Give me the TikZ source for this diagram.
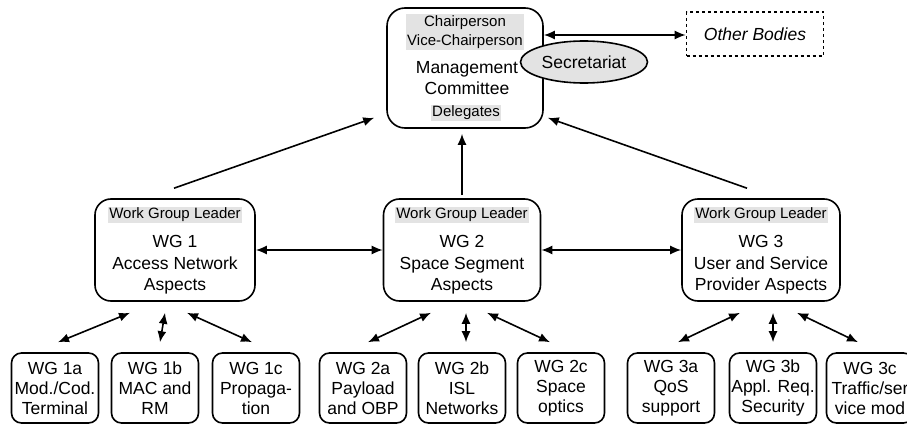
\documentclass[tikz,border=0pt]{standalone}
\usepackage{fontspec}
\setmainfont{Liberation Sans}
\usetikzlibrary{positioning}
\usetikzlibrary{shapes.geometric}
\usetikzlibrary{arrows.meta}

\tikzset{
	bigbox/.style={draw, line width=1.6pt, rounded corners=16pt, minimum width=160pt, minimum height=102pt},
	subbox/.style={draw, line width=1.6pt, rounded corners=10pt, minimum width=87pt, minimum height=70pt, align=center, inner sep=0pt, font=\fontsize{17.5}{20}\selectfont},
	tag/.style={fill=gray!22, inner sep=1.5pt, align=center, font=\fontsize{15}{19}\selectfont},
	txt/.style={align=center, font=\fontsize{17.5}{21.5}\selectfont},
	dbl/.style={line width=1.6pt, {Latex[length=11pt,width=9pt]}-{Latex[length=11pt,width=9pt]}},
	up/.style={line width=1.6pt, -{Latex[length=11pt,width=9pt]}}
}

\begin{document}
\begin{tikzpicture}[x=1pt, y=-1pt]
				\useasboundingbox (0,0) rectangle (907,425);
				
				% management committee
				\node[bigbox, rounded corners=18pt, minimum width=156pt, minimum height=120pt] (MC) at (465,68) {};
				\node[tag] (Chair) at (465,32) {Chairperson\\Vice-Chairperson};
				\node[txt] (MCtxt) at (467,78) {Management\\Committee};
				\node[tag] (Deleg) at (466,113) {Delegates};
				\node[ellipse, draw, line width=1.6pt, fill=gray!22, minimum width=127pt, minimum height=42pt, inner sep=0pt, font=\fontsize{17.5}{20}\selectfont] (Sec) at (584,62) {Secretariat};
				
				\node[draw, dashed, line width=1.6pt, minimum width=137pt, minimum height=44pt, font=\fontsize{17.5}{20}\selectfont\itshape] (OB) at (755,34) {Other Bodies};
				\draw[dbl] ([yshift=-1pt]OB.west -| MC.east) -- ([yshift=-1pt]OB.west);
				
				% work groups
				\node[bigbox] (WG1) at (175,250) {};
				\node[tag] (L1) at (175,215) {Work Group Leader};
				\node[txt] (T1) at (175,265) {WG 1\\Access Network\\Aspects};
				
				\node[bigbox, minimum width=157pt] (WG2) at (462,250) {};
				\node[tag] (L2) at (462,215) {Work Group Leader};
				\node[txt] (T2) at (462,265) {WG 2\\Space Segment\\Aspects};
				
				\node[bigbox, minimum width=158pt] (WG3) at (761,250) {};
				\node[tag] (L3) at (761,215) {Work Group Leader};
				\node[txt] (T3) at (761,265) {WG 3\\User and Service\\Provider Aspects};
				
				\draw[up] ([xshift=-1pt,yshift=10pt]WG1.north) -- ([xshift=-12pt,yshift=11pt]MC.south west);
				\draw[up] ([yshift=3pt]WG2.north) -- ([yshift=-5pt]WG2.north |- MC.south);
				\draw[up] ([xshift=-14pt,yshift=10pt]WG3.north) -- ([xshift=4pt,yshift=11pt]MC.south east);
				
				\draw[dbl] (WG1) -- (WG2);
				\draw[dbl] (WG2) -- (WG3);
				
				% sub groups
				\node[subbox] (W1a) at (55,388) {WG 1a\\Mod./Cod.\\Terminal};
				\node[subbox] (W1b) at (155,388) {WG 1b\\MAC and\\RM};
				\node[subbox] (W1c) at (256,388) {WG 1c\\Propaga-\\tion};
				
				\node[subbox] (W2a) at (363,388) {WG 2a\\Payload\\and OBP};
				\node[subbox] (W2b) at (462,388) {WG 2b\\ISL\\Networks};
				\node[subbox] (W2c) at (561,388) {WG 2c\\Space\\optics};
				
				\node[subbox] (W3a) at (671,388) {WG 3a\\QoS\\support};
				\node[subbox] (W3b) at (773,388) {WG 3b\\Appl. Req.\\Security};
				\node[subbox] (W3c) at (870,388) {WG 3c\\Traffic/ser\\vice mod};
				
				\draw[dbl] ([xshift=-45pt,yshift=-11pt]WG1.south) -- ([xshift=3pt,yshift=10pt]W1a.north);
				\draw[dbl] ([xshift=-10pt,yshift=-11pt]WG1.south) -- ([xshift=5pt,yshift=10pt]W1b.north);
				\draw[dbl] ([xshift=12pt,yshift=-11pt]WG1.south) -- ([xshift=-4pt,yshift=10pt]W1c.north);
				
				\draw[dbl] ([xshift=-31pt,yshift=-11pt]WG2.south) -- ([xshift=5pt,yshift=10pt]W2a.north);
				\draw[dbl] ([xshift=4pt,yshift=-11pt]WG2.south) -- ([xshift=4pt,yshift=10pt]W2b.north);
				\draw[dbl] ([xshift=25pt,yshift=-11pt]WG2.south) -- ([xshift=-11pt,yshift=10pt]W2c.north);
				
				\draw[dbl] ([xshift=-21pt,yshift=-11pt]WG3.south) -- ([xshift=7pt,yshift=10pt]W3a.north);
				\draw[dbl] ([xshift=12pt,yshift=-11pt]WG3.south) -- ([yshift=10pt]W3b.north);
				\draw[dbl] ([xshift=36pt,yshift=-11pt]WG3.south) -- ([xshift=-12pt,yshift=10pt]W3c.north);
				
\end{tikzpicture}
\end{document}
